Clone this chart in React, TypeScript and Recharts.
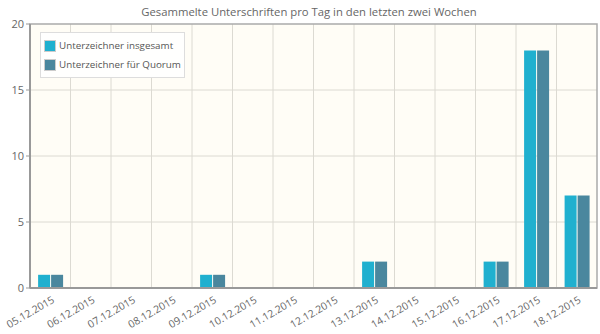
import { BarChart, Bar, XAxis, YAxis, CartesianGrid } from 'recharts';

const dates = [
  '05.12.2015', '06.12.2015', '07.12.2015', '08.12.2015', '09.12.2015', '10.12.2015', '11.12.2015',
  '12.12.2015', '13.12.2015', '14.12.2015', '15.12.2015', '16.12.2015', '17.12.2015', '18.12.2015',
];
const totalSigners = [1, 0, 0, 0, 1, 0, 0, 0, 2, 0, 0, 2, 18, 7];
const quorumSigners = [1, 0, 0, 0, 1, 0, 0, 0, 2, 0, 0, 2, 18, 7];
const yTicks = [0, 5, 10, 15, 20];

const TITLE = 'Gesammelte Unterschriften pro Tag in den letzten zwei Wochen';
const FONT = '"Open Sans", sans-serif';
const C_TOTAL = '#20b0cf';
const C_QUORUM = '#4a879e';

const data = dates.map((d, i) => ({ date: d, total: totalSigners[i], quorum: quorumSigners[i] }));

// grid lines between categories, like jqPlot does
const boundaryLines = ({ offset }: any) => {
  const n = dates.length;
  const out: number[] = [];
  for (let i = 1; i < n; i++) out.push(offset.left + (offset.width * i) / n);
  return out;
};

const RotatedTick = (props: any) => {
  const { x, y, payload } = props;
  return (
    <g transform={`translate(${x + 1},${y - 1})`}>
      <text textAnchor="end" transform="rotate(-30)" fontSize={10.4} fill="#666" fontFamily={FONT} dy={8}>
        {payload.value}
      </text>
    </g>
  );
};

const legendItems = [
  { label: 'Unterzeichner insgesamt', color: C_TOTAL },
  { label: 'Unterzeichner für Quorum', color: C_QUORUM },
];

export default function App() {
  return (
    <div style={{ position: 'absolute', top: 0, left: 0, width: 600, height: 334, background: '#fff' }}>
      <BarChart
        width={600}
        height={334}
        data={data}
        margin={{ top: 24, right: 3, left: 0, bottom: 0 }}
        barCategoryGap="20%"
        barGap={1}
      >
        <text x={309} y={16} textAnchor="middle" fontSize={11.3} fill="#666" fontFamily={FONT}>
          {TITLE}
        </text>
        <CartesianGrid
          stroke="#dcdad2"
          strokeWidth={1}
          fill="#fffdf6"
          fillOpacity={1}
          verticalCoordinatesGenerator={boundaryLines}
          horizontalValues={[5, 10, 15]}
        />
        <XAxis
          dataKey="date"
          interval={0}
          tick={<RotatedTick />}
          tickLine={false}
          axisLine={{ stroke: '#999', strokeWidth: 2 }}
          height={46}
        />
        <YAxis
          domain={[0, 20]}
          ticks={yTicks}
          width={30}
          tick={{ fontSize: 11, fill: '#666', fontFamily: FONT }}
          tickLine={{ stroke: '#999' }}
          tickSize={4}
          axisLine={{ stroke: '#999', strokeWidth: 2 }}
        />
        <Bar dataKey="total" fill={C_TOTAL} isAnimationActive={false} />
        <Bar dataKey="quorum" fill={C_QUORUM} isAnimationActive={false} />
        <rect x={30} y={24} width={567} height={264} fill="none" stroke="#aaa" strokeWidth={1.5} />
      </BarChart>
      <div
        style={{
          position: 'absolute',
          top: 32,
          left: 40,
          border: '1px solid #ddd',
          background: '#fffffe',
          padding: '3px 3px 3px 3px',
          fontFamily: FONT,
          fontSize: 9.8,
          color: '#555',
          lineHeight: '19px',
        }}
      >
        {legendItems.map(it => (
          <div key={it.label} style={{ display: 'flex', alignItems: 'center' }}>
            <span
              style={{
                display: 'inline-block',
                width: 10,
                height: 10,
                background: it.color,
                border: '1px solid #ccc',
                marginRight: 3,
              }}
            />
            {it.label}
          </div>
        ))}
      </div>
    </div>
  );
}
